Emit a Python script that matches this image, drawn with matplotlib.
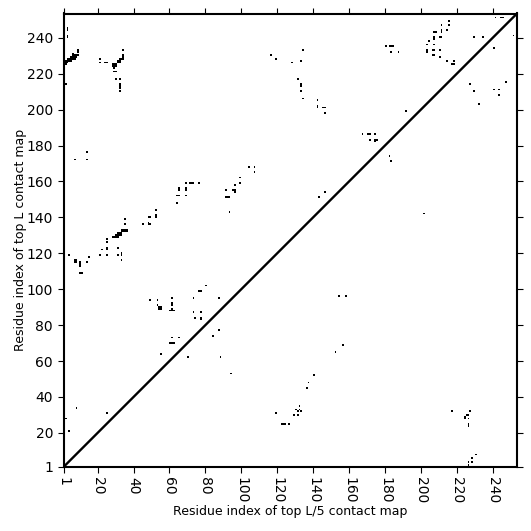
import numpy as np
import matplotlib
matplotlib.use("Agg")
import matplotlib.pyplot as plt

n_res = 253

#upper triangle, top L contacts as (i, j)
top_l = [
    (3,244),(3,245),(3,240),(3,241),(2,214),(1,225),(1,226),(2,225),(2,226),(2,227),(3,226),(3,227),(3,228),(4,227),(4,228),(5,227),
    (5,228),(5,229),(6,228),(6,229),(6,230),(6,231),(7,228),(7,229),(7,230),(8,229),(8,230),(9,230),(9,232),(9,233),
    (21,228),(21,226),(24,226),(25,226),(28,225),(28,224),(29,225),(29,224),(30,224),(29,223),(30,225),
    (31,226),(32,226),(31,227),(32,227),(32,228),(33,228),(34,228),(34,229),(34,230),(34,233),
    (29,221),(30,221),(30,217),(32,217),(32,214),(32,213),(32,212),(32,210),(116,230),(119,228),
    (14,176),(14,172),(7,172),(104,168),(107,168),(107,165),(99,162),(99,159),(96,158),
    (91,155),(95,155),(96,155),(96,154),(91,151),(92,151),(93,151),(93,143),
    (69,159),(71,159),(72,159),(73,159),(76,159),(65,156),(65,155),(69,156),(69,155),(64,152),(65,152),(69,152),(64,148),
    (52,144),(48,140),(49,140),(52,140),(52,141),(45,136),(48,137),(48,136),(49,136),(35,139),(35,136),
    (28,129),(29,129),(30,129),(30,130),(31,129),(31,130),(31,131),(32,130),(32,131),(33,130),(33,131),(33,132),
    (33,133),(34,132),(34,133),(35,132),(35,133),(36,133),(36,132),(25,128),
    (25,126),(25,123),(25,122),(22,122),(31,123),(33,120),(33,119),(31,119),(25,119),(21,119),(33,116),(15,118),
    (14,115),(10,115),(10,114),(10,113),(7,115),(8,115),(8,116),(7,116),(4,119),(10,109),(11,109),
    (80,102),(76,99),(77,99),(73,95),(49,94),(53,94),(61,95),(61,92),(61,91),(60,88),(61,88),(62,88),(61,89),
    (53,91),(54,90),(54,89),(55,89),(55,90),(73,87),(77,87),(74,84),(77,84),(77,83),(61,73),(65,73),(60,70),(61,70),(62,70),
    (55,64),(70,62),
    (241,251),(244,251),(245,251),(215,249),(215,247),(211,247),(211,244),(211,243),(214,244),(207,243),(208,243),
    (207,240),(207,239),(210,240),(211,240),(204,238),(203,236),(207,236),(203,233),(203,232),(206,233),(207,233),(210,233),
    (206,230),(207,230),(210,229),(214,227),(218,227),(217,225),(218,225),
    (180,235),(182,235),(183,235),(184,235),(187,232),(183,232),(134,233),(133,227),(128,226),
    (229,240),(234,240),(251,241),(240,234),(131,217),(133,214),(133,213),(133,210),(134,206),
    (142,205),(142,202),(142,201),(145,201),(146,201),(146,198),(191,199),
    (167,186),(170,186),(171,186),(174,186),(171,183),(174,183),(174,182),(175,183),
    (182,174),(183,171),(146,154),(143,151),(201,142),(227,214),(229,210),(232,203),(240,211),(243,211),(243,208),(247,215),
]

#lower triangle, top L/5 contacts
top_l5 = [
    (87,95),(87,77),(84,74),(88,62),(94,53),
    (154,96),(158,96),(156,69),(152,65),(140,52),(137,48),(136,45),
    (132,35),(130,33),(132,33),(131,32),(133,32),(129,30),(131,30),(119,31),(122,25),(123,25),(124,25),(126,25),
    (217,32),(227,32),(225,30),(226,30),(224,29),(224,28),(226,28),(226,25),(226,24),
    (230,8),(228,6),(228,4),(226,4),(225,1),(226,2),
]

upper_extra = [(8,34),(25,31),(2,28),(4,21)]

ticks = [1,20,40,60,80,100,120,140,160,180,200,220,240]

grid = np.zeros((n_res, n_res))
for i, j in top_l + top_l5 + upper_extra:
    grid[j-1, i-1] = 1

fig = plt.figure(figsize=(5.31, 5.31), dpi=100)
ax = fig.add_axes([63.5/531, 1-467/531, (517-63.5)/531, (467-13.5)/531])
ax.imshow(grid, cmap="Greys", vmin=0, vmax=1, origin="lower", interpolation="nearest",
          extent=(0.5, n_res+0.5, 0.5, n_res+0.5), aspect="auto")
#the diagonal is a smooth line in the reference
ax.plot([1, n_res+0.5], [1, n_res+0.5], color="black", lw=1.7)
ax.set_xlim(1, n_res+0.5)
ax.set_ylim(1, n_res+0.5)
ax.set_xticks(ticks)
ax.set_yticks(ticks)
ax.set_xticklabels([str(t) for t in ticks], rotation=270, fontsize=10)
ax.set_yticklabels([str(t) for t in ticks], fontsize=10)
ax.tick_params(top=True, right=True, direction="out", length=4, width=0.8)
for s in ax.spines.values():
    s.set_linewidth(1.5)
ax.set_xlabel("Residue index of top L/5 contact map", fontsize=9, labelpad=1)
ax.set_ylabel("Residue index of top L contact map", fontsize=9, labelpad=0)

fig.savefig("out.png", dpi=100)
